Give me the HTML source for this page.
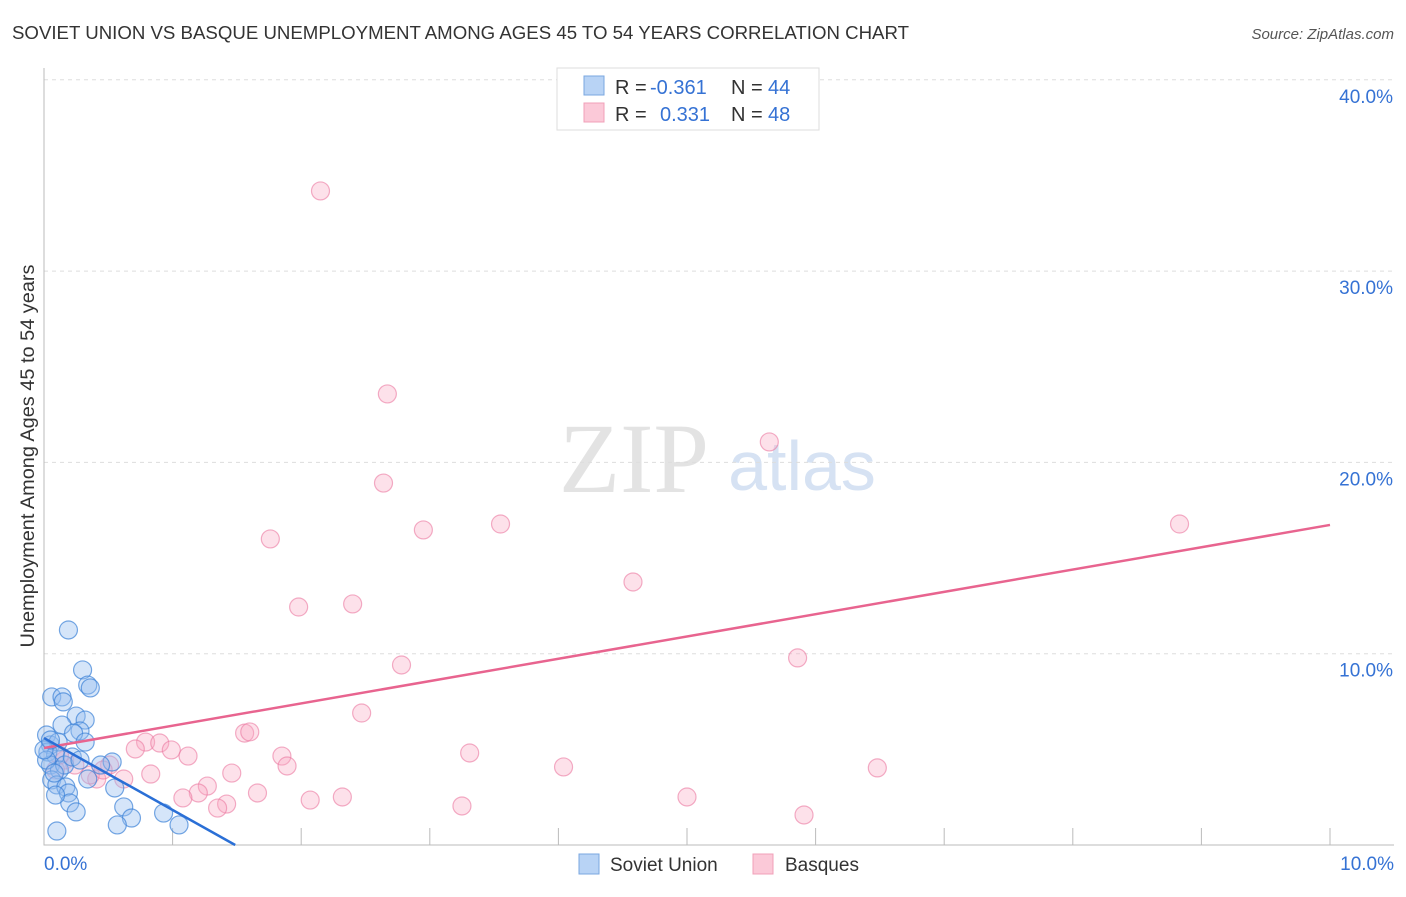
<!DOCTYPE html>
<html><head><meta charset="utf-8"><style>
body{margin:0;background:#fff;font-family:"Liberation Sans",sans-serif}
svg text{font-family:"Liberation Sans",sans-serif}
</style></head><body>
<svg id="c" width="1406" height="892">
<text x="12" y="39" font-size="18" fill="#333" textLength="897" lengthAdjust="spacingAndGlyphs">SOVIET UNION VS BASQUE UNEMPLOYMENT AMONG AGES 45 TO 54 YEARS CORRELATION CHART</text>
<text x="1394" y="39" font-size="15" fill="#555" font-style="italic" text-anchor="end">Source: ZipAtlas.com</text>
<text x="634" y="492" font-size="100" fill="#e3e3e3" text-anchor="middle" style="font-family:'Liberation Serif',serif">ZIP</text>
<text x="802" y="490" font-size="70" fill="#d6e2f3" text-anchor="middle">atlas</text>
<text transform="translate(34,456) rotate(-90)" font-size="19" fill="#333" text-anchor="middle" textLength="383" lengthAdjust="spacingAndGlyphs">Unemployment Among Ages 45 to 54 years</text>
<g id="grid"></g><g id="marks"></g>
<g>
<rect x="557" y="68" width="262" height="62" fill="#fff" stroke="#ddd"/>
<rect x="584" y="76" width="20" height="19" fill="#b8d3f5" stroke="#7aa7e0"/>
<rect x="584" y="103" width="20" height="19" fill="#fbc9d8" stroke="#f0a0b8"/>
<text x="615" y="94" font-size="20" fill="#333">R = </text><text x="650" y="94" font-size="20" fill="#3572d4">-0.361</text>
<text x="731" y="94" font-size="20" fill="#333">N = </text><text x="768" y="94" font-size="20" fill="#3572d4">44</text>
<text x="615" y="121" font-size="20" fill="#333">R = </text><text x="660" y="121" font-size="20" fill="#3572d4">0.331</text>
<text x="731" y="121" font-size="20" fill="#333">N = </text><text x="768" y="121" font-size="20" fill="#3572d4">48</text>
</g>
<g>
<rect x="579" y="854" width="20" height="20" fill="#b8d3f5" stroke="#7aa7e0"/>
<text x="610" y="871" font-size="19" fill="#333">Soviet Union</text>
<rect x="753" y="854" width="20" height="20" fill="#fbc9d8" stroke="#f0a0b8"/>
<text x="785" y="871" font-size="19" fill="#333">Basques</text>
</g>
</svg>
<script>
const yTicks=[10,20,30,40];
const yTickLabels=["10.0%","20.0%","30.0%","40.0%"];
const xTickLabels=["0.0%","10.0%"];
const sovietX=[0.19,0.30,0.06,0.14,0.34,0.36,0.15,0.25,0.32,0.14,0.28,0.23,0.02,0.05,0.11,0.32,0.03,0.09,0.05,0.12,0.06,0.10,0.17,0.34,0.19,0.20,0.25,0.53,0.55,0.62,0.68,0.57,0.93,1.05,0.10,0.02,0.16,0.08,0.00,0.22,0.05,0.09,0.28,0.44];
const sovietY=[11.24,9.15,7.74,7.74,8.36,8.21,7.48,6.74,6.53,6.27,5.96,5.85,5.75,5.23,5.38,5.38,4.86,4.70,4.18,3.92,3.40,3.14,3.03,3.45,2.72,2.20,1.73,4.34,2.98,1.99,1.41,1.05,1.67,1.05,0.73,4.44,4.18,3.76,4.97,4.60,5.49,2.61,4.44,4.18];
const basqueX=[2.15,2.67,5.64,2.64,2.95,3.55,8.83,1.76,4.58,1.98,2.40,2.78,5.86,2.47,1.56,1.60,0.79,0.90,0.71,0.99,1.12,1.85,3.31,1.89,4.04,6.48,0.83,1.46,0.62,0.41,1.27,1.20,1.08,1.66,1.42,1.35,2.07,2.32,3.25,5.00,5.91,0.51,0.16,0.36,0.09,0.24,0.12,0.46];
const basqueY=[34.19,23.58,21.07,18.92,16.47,16.78,16.78,16.00,13.75,12.44,12.60,9.41,9.78,6.90,5.85,5.91,5.38,5.33,5.02,4.97,4.65,4.65,4.81,4.13,4.08,4.03,3.71,3.76,3.45,3.45,3.08,2.72,2.46,2.72,2.14,1.93,2.35,2.51,2.04,2.51,1.57,4.18,4.44,3.66,3.92,4.18,4.70,3.92];
const sovietTrend=[5.59,-3.76];
const basqueTrend=[5.07,1.166];
const X=v=>44+v*128.6, Y=v=>845-v*19.13;
const NS="http://www.w3.org/2000/svg";
function mk(t,a,p){const e=document.createElementNS(NS,t);for(const k in a)e.setAttribute(k,a[k]);p.appendChild(e);return e;}
const g=document.getElementById('grid'),m=document.getElementById('marks');
yTicks.forEach((v,i)=>{
 const l=mk('line',{x1:44,x2:1394,y1:Y(v),y2:Y(v),stroke:'#ddd','stroke-dasharray':'4,4'},g);
 
 
 const t=mk('text',{x:1393,y:Y(v)+23,'font-size':19,fill:'#3572d4','text-anchor':'end'},g);
 t.textContent=yTickLabels[i];
 
 
});
for(let i=1;i<=10;i++){
 const l=mk('line',{x1:X(i),x2:X(i),y1:828,y2:845,stroke:'#bbb'},g);
 
 
}
const ax=mk('path',{d:'M44,68V845H1394',fill:'none',stroke:'#bbb'},g);


[[0,44,'start'],[10,1394,'end']].forEach((d,i)=>{
 const t=mk('text',{x:d[1],y:870,'font-size':19,fill:'#3572d4','text-anchor':d[2]},g);
 t.textContent=xTickLabels[i];
 
 
});
basqueX.forEach((v,i)=>{
 const c=mk('circle',{cx:X(v),cy:Y(basqueY[i]),r:9,fill:'rgba(248,170,195,0.35)',stroke:'rgba(235,120,160,0.6)','stroke-width':1.2},m);
 
 
});
sovietX.forEach((v,i)=>{
 const c=mk('circle',{cx:X(v),cy:Y(sovietY[i]),r:9,fill:'rgba(150,190,240,0.4)',stroke:'rgba(60,130,215,0.7)','stroke-width':1.2},m);
 
 
});
const bl=mk('line',{x1:X(0),y1:Y(basqueTrend[0]),x2:X(10),y2:Y(basqueTrend[0]+basqueTrend[1]*10),stroke:'#e8648f','stroke-width':2.5},m);


const xe=-sovietTrend[0]/sovietTrend[1];
const sl=mk('line',{x1:X(0),y1:Y(sovietTrend[0]),x2:X(xe),y2:Y(0),stroke:'#2a6fd6','stroke-width':2.5},m);


</script>
</body></html>
